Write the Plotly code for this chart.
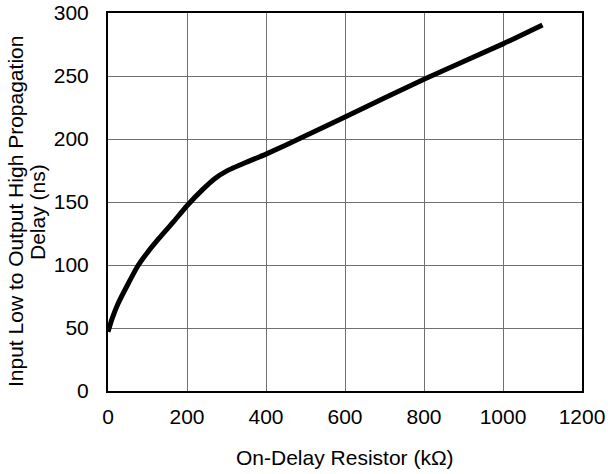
import plotly.graph_objects as go

resistor_kohm = [0, 10, 25, 50, 75, 100, 130, 165, 200, 240, 270, 300, 350, 400, 500, 600, 800, 1000, 1100]
delay_ns = [47, 57, 69, 84.5, 99, 110, 121.5, 134, 147, 160, 168.5, 174.5, 181.5, 188, 202.5, 217.5, 247.5, 275.5, 290.5]

font = "Liberation Sans, Arial, sans-serif"
fs = 21

fig = go.Figure()
fig.add_trace(go.Scatter(x=resistor_kohm, y=delay_ns, mode="lines",
                         line=dict(color="black", width=5, shape="spline", smoothing=0.5),
                         showlegend=False))

fig.update_layout(
    width=608, height=474,
    margin=dict(l=108, r=26, t=13, b=83),
    paper_bgcolor="white", plot_bgcolor="white",
    font=dict(family=font, size=fs, color="black"),
    xaxis=dict(range=[0, 1200], tickvals=[0, 200, 400, 600, 800, 1000, 1200],
               showgrid=True, gridcolor="#707070", gridwidth=1,
               showline=True, linecolor="black", linewidth=2, mirror=True,
               ticks="", zeroline=False, automargin=False,
               tickfont=dict(family=font, size=fs),
               ticklabelstandoff=6),
    yaxis=dict(range=[0, 300], tickvals=[0, 50, 100, 150, 200, 250, 300],
               showgrid=True, gridcolor="#707070", gridwidth=1,
               showline=True, linecolor="black", linewidth=2, mirror=True,
               ticks="", zeroline=False, automargin=False,
               tickfont=dict(family=font, size=fs),
               ticklabelstandoff=13),
    annotations=[
        dict(text="Input Low to Output High Propagation", xref="paper", yref="paper",
             x=0, y=0.5, xanchor="center", yanchor="middle", textangle=-90,
             xshift=-93, yshift=-10, showarrow=False, font=dict(family=font, size=fs)),
        dict(text="Delay (ns)", xref="paper", yref="paper",
             x=0, y=0.5, xanchor="center", yanchor="middle", textangle=-90,
             xshift=-71, yshift=-10, showarrow=False, font=dict(family=font, size=fs)),
        dict(text="On-Delay Resistor (kΩ)", xref="paper", yref="paper",
             x=0.5, y=0, xanchor="center", yanchor="middle",
             yshift=-66, showarrow=False, font=dict(family=font, size=fs)),
    ],
)

fig.write_html("out.html")
